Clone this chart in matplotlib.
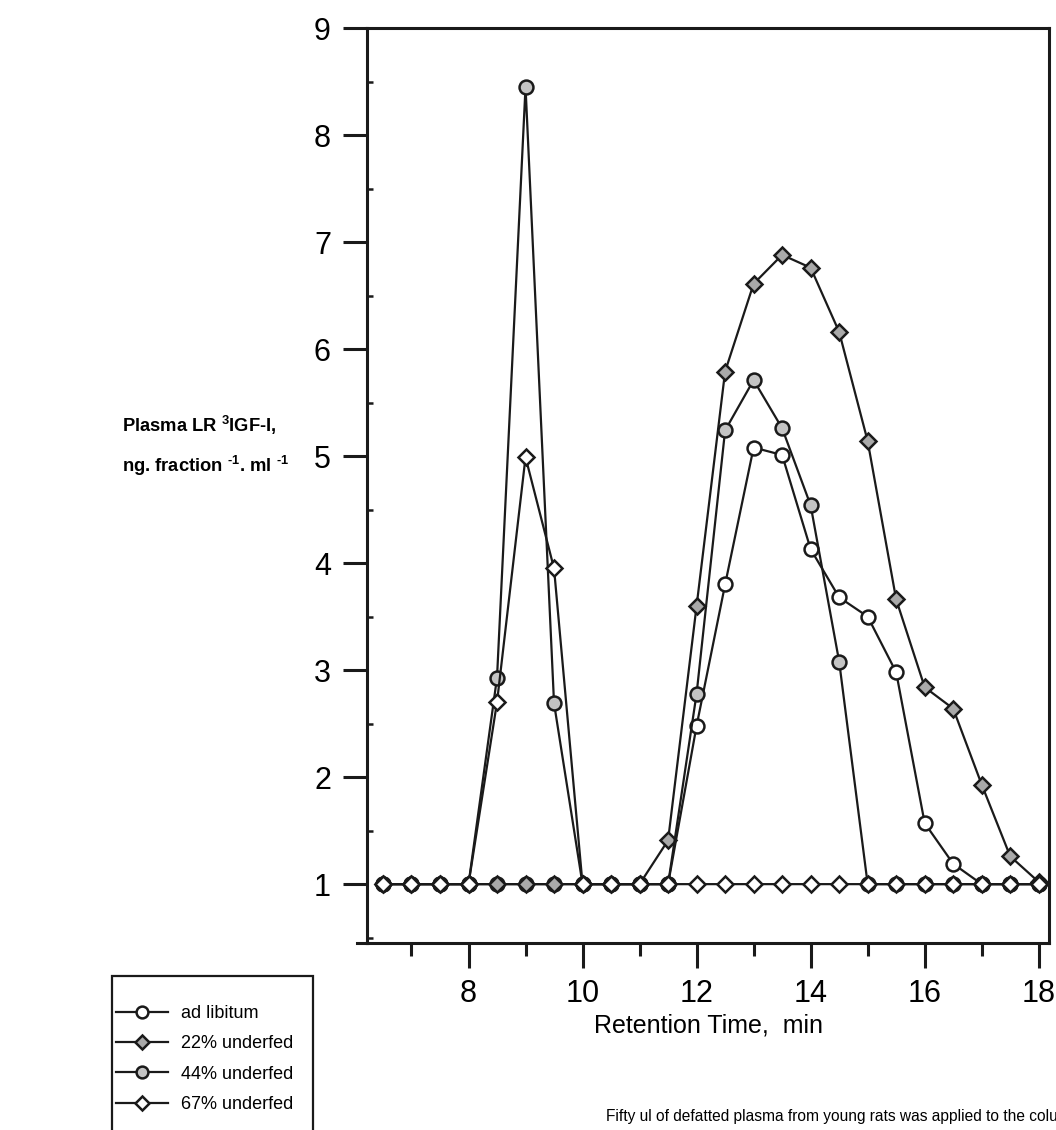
import matplotlib
matplotlib.use("Agg")
import matplotlib.pyplot as plt
from matplotlib.patches import Rectangle
from matplotlib.lines import Line2D
from matplotlib.ticker import MultipleLocator, FixedLocator

# ---- data ----
retention_time = [6.5, 7, 7.5, 8, 8.5, 9, 9.5, 10, 10.5, 11, 11.5, 12,
                  12.5, 13, 13.5, 14, 14.5, 15, 15.5, 16, 16.5, 17, 17.5, 18]
ad_libitum = [1, 1, 1, 1, 1, 1, 1, 1, 1, 1, 1, 2.48,
              3.80, 5.08, 5.01, 4.13, 3.68, 3.50, 2.98, 1.57, 1.19, 1.00, 1.00, 1.00]
underfed_22 = [1, 1, 1, 1, 1, 1, 1, 1, 1, 1, 1.41, 3.60,
               5.79, 6.61, 6.88, 6.76, 6.16, 5.14, 3.66, 2.84, 2.64, 1.93, 1.26, 1.02]
underfed_44 = [1, 1, 1, 1, 2.93, 8.45, 2.69, 1, 1, 1, 1, 2.78,
               5.24, 5.71, 5.26, 4.54, 3.08, 1, 1, 1, 1, 1, 1, 1]
underfed_67 = [1, 1, 1, 1, 2.70, 4.99, 3.95, 1, 1, 1, 1, 1,
               1, 1, 1, 1, 1, 1, 1, 1, 1, 1, 1, 1]
series_labels = ["ad libitum", "22% underfed", "44% underfed", "67% underfed"]
x_major_ticks = [8, 10, 12, 14, 16, 18]
y_major_ticks = [1, 2, 3, 4, 5, 6, 7, 8, 9]

SANS = ["Liberation Sans", "DejaVu Sans"]
plt.rcParams["font.family"] = SANS
plt.rcParams["mathtext.fontset"] = "custom"
plt.rcParams["mathtext.rm"] = "Liberation Sans:bold"
plt.rcParams["mathtext.bf"] = "Liberation Sans:bold"

W, H = 1056, 1130
fig = plt.figure(figsize=(W / 100, H / 100), dpi=100)
ax = fig.add_axes([367 / W, 1 - 943 / H, (1049 - 367) / W, (943 - 28) / H])

edge = "#1a1a1a"
styles = [
    dict(marker="o", ms=10, mfc="white"),
    dict(marker="D", ms=8, mfc="#a9a9a9"),
    dict(marker="o", ms=10, mfc="#c4c4c4"),
    dict(marker="D", ms=8, mfc="white"),
]
lines = []
for ys, lab, st in zip([ad_libitum, underfed_22, underfed_44, underfed_67], series_labels, styles):
    ln, = ax.plot(retention_time, ys, color=edge, lw=1.6, mec=edge, mew=1.8,
                  label=lab, clip_on=False, **st)
    lines.append(ln)

ax.set_xlim(6.22, 18.18)
ax.set_ylim(0.45, 9.0)
for s in ax.spines.values():
    s.set_linewidth(2.2)
    s.set_color(edge)

ax.xaxis.set_major_locator(FixedLocator(x_major_ticks))
ax.xaxis.set_minor_locator(FixedLocator([7, 9, 11, 13, 15, 17]))
ax.yaxis.set_major_locator(FixedLocator(y_major_ticks))
ax.yaxis.set_minor_locator(MultipleLocator(0.5))
ax.tick_params(axis="x", which="major", direction="out", length=18, width=2.2,
               pad=8, labelsize=22, color=edge)
ax.tick_params(axis="x", which="minor", direction="out", length=9, width=2.2, color=edge)
ax.tick_params(axis="y", which="major", direction="out", length=17, width=2.2,
               pad=9, labelsize=22, color=edge)
ax.tick_params(axis="y", which="minor", direction="in", length=4, width=1.8, color=edge)
ax.tick_params(top=False, right=False)

# small extension of the bottom axis line to the left
ax.add_line(Line2D([-0.014, 0], [0, 0], transform=ax.transAxes, color=edge,
                   lw=2.2, clip_on=False))

ax.set_xlabel("Retention Time,  min", fontsize=18, labelpad=3)

fig.text(122 / W, 1 - 425 / H, r"Plasma LR $^{3}$IGF-I,", fontsize=13.2,
         fontweight="bold", ha="left", va="center")
fig.text(122 / W, 1 - 466 / H, r"ng. fraction $^{\text{-1}}$. ml $^{\text{-1}}$",
         fontsize=13.2, fontweight="bold", ha="left", va="center")

# legend with box running off the bottom of the page
fig.patches.append(Rectangle((112 / W, -0.02), (313 - 112) / W, 0.02 + 1 - 976 / H,
                             transform=fig.transFigure, fill=False, lw=1.6,
                             edgecolor=edge))
leg = fig.legend(handles=lines, loc="upper left",
                 bbox_to_anchor=(116 / W, 1 - 1005 / H), frameon=False,
                 handlelength=2.9, handletextpad=0.7, labelspacing=0.74,
                 borderaxespad=0, borderpad=0, prop={"size": 13})
for h in leg.legend_handles:
    h.set_markersize(h.get_markersize() * 0.85)

fig.text(606 / W, 1 - 1117 / H,
         "Fifty ul of defatted plasma from young rats was applied to the colu",
         fontsize=11.2, ha="left", va="center")

fig.savefig("out.png", dpi=100)
